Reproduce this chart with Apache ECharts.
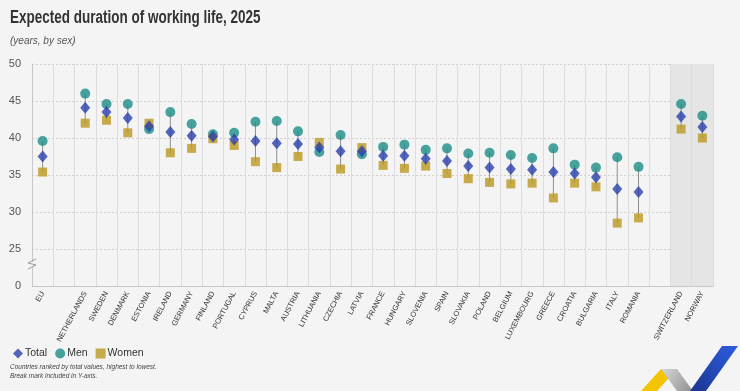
<!DOCTYPE html>
<html>
<head>
<meta charset="utf-8">
<script src="https://cdn.jsdelivr.net/npm/echarts@6/dist/echarts.min.js"></script>
<style>
  html, body { margin: 0; padding: 0; background: #f4f4f4; }
  #chart { width: 740px; height: 391px; }
</style>
</head>
<body>
<div id="chart"></div>
<script>
// countries, ranked by total (blank slots are gaps in the chart)
const countries = ['EU', '', 'NETHERLANDS', 'SWEDEN', 'DENMARK', 'ESTONIA', 'IRELAND', 'GERMANY', 'FINLAND',
  'PORTUGAL', 'CYPRUS', 'MALTA', 'AUSTRIA', 'LITHUANIA', 'CZECHIA', 'LATVIA', 'FRANCE', 'HUNGARY',
  'SLOVENIA', 'SPAIN', 'SLOVAKIA', 'POLAND', 'BELGIUM', 'LUXEMBOURG', 'GREECE', 'CROATIA', 'BULGARIA',
  'ITALY', 'ROMANIA', ' ', 'SWITZERLAND', 'NORWAY'];

const total = [37.5, null, 44.1, 43.5, 42.7, 41.6, 40.8, 40.3, 40.2,
  39.8, 39.6, 39.3, 39.2, 38.7, 38.2, 38.2, 37.6, 37.6,
  37.2, 36.9, 36.2, 36.0, 35.8, 35.7, 35.4, 35.2, 34.7,
  33.1, 32.7, null, 42.9, 41.5];

const men = [39.6, null, 46.0, 44.6, 44.6, 41.2, 43.5, 41.9, 40.5,
  40.7, 42.2, 42.3, 40.9, 38.1, 40.4, 37.8, 38.8, 39.1,
  38.4, 38.6, 37.9, 38.0, 37.7, 37.3, 38.6, 36.4, 36.0,
  37.4, 36.1, null, 44.6, 43.0];

const women = [35.4, null, 42.0, 42.4, 40.7, 42.0, 38.0, 38.6, 39.9,
  39.0, 36.8, 36.0, 37.5, 39.4, 35.8, 38.7, 36.3, 35.9,
  36.2, 35.2, 34.5, 34.0, 33.8, 33.9, 31.9, 33.9, 33.4,
  28.5, 29.2, null, 41.2, 40.0];

// y axis is broken: the lowest tick (20) is shown as 0
const yTicks = [20, 25, 30, 35, 40, 45, 50];
const nonEU = ['SWITZERLAND', 'NORWAY'];

const narrow = '"Liberation Sans Narrow", "Liberation Sans", sans-serif';
const blue = '#2b40ad', teal = '#1b8d88', gold = '#bb971f';

// min/max range per country for the connecting line
const ranges = countries.map((c, i) => men[i] == null ? null :
  [i, Math.min(men[i], women[i]), Math.max(men[i], women[i])]);

const chart = echarts.init(document.getElementById('chart'));

chart.setOption({
  backgroundColor: '#f4f4f4',
  animation: false,
  grid: { left: 32, right: 27, top: 64, bottom: 105 },
  legend: {
    left: 8, top: 343,
    itemWidth: 10, itemHeight: 10, itemGap: 8,
    textStyle: { fontFamily: narrow, fontSize: 10.5, color: '#333', padding: [0, 0, 0, -3] },
    data: [
      { name: 'Total', icon: 'diamond' },
      { name: 'Men', icon: 'circle' },
      { name: 'Women', icon: 'rect' }
    ]
  },
  xAxis: {
    type: 'category',
    data: countries,
    axisLine: { lineStyle: { color: '#c8c8c8' } },
    axisTick: { show: false },
    axisLabel: {
      interval: 0, rotate: 62, margin: 6,
      fontFamily: narrow, fontSize: 7.5, color: '#333'
    },
    splitLine: { show: true, interval: 0, lineStyle: { color: '#dcdcdc', width: 1 } },
    splitArea: {
      show: true, interval: 0,
      areaStyle: { color: countries.map(c => nonEU.includes(c) ? '#e5e5e5' : 'rgba(0,0,0,0)') }
    }
  },
  yAxis: {
    type: 'value',
    min: yTicks[0], max: yTicks[yTicks.length - 1], interval: 5,
    axisLine: { show: true, lineStyle: { color: '#c8c8c8' } },
    axisTick: { show: false },
    axisLabel: {
      margin: 11, fontFamily: narrow, fontSize: 11, color: '#555',
      formatter: v => v === yTicks[0] ? '0' : v
    },
    splitLine: { lineStyle: { color: '#cfcfcf', type: [2, 2] } }
  },
  series: [
    {
      type: 'custom',
      name: 'range',
      data: ranges.filter(r => r),
      z: 1,
      renderItem: (params, api) => {
        const a = api.coord([api.value(0), api.value(1)]);
        const b = api.coord([api.value(0), api.value(2)]);
        return {
          type: 'line',
          shape: { x1: a[0], y1: a[1], x2: b[0], y2: b[1] },
          style: { stroke: '#8e8e8e', lineWidth: 1 }
        };
      },
      silent: true
    },
    {
      name: 'Men', type: 'scatter', data: men, z: 2,
      symbol: 'circle', symbolSize: 10, itemStyle: { color: teal }
    },
    {
      name: 'Women', type: 'scatter', data: women, z: 3,
      symbol: 'rect', symbolSize: 9, itemStyle: { color: gold }
    },
    {
      name: 'Total', type: 'scatter', data: total, z: 4,
      symbol: 'diamond', symbolSize: [10, 12], itemStyle: { color: blue }
    }
  ],
  graphic: [
    {
      type: 'text', left: 10, top: 9, scaleX: 0.75,
      style: { text: 'Expected duration of working life, 2025', font: 'bold 18px ' + narrow, fill: '#333' }
    },
    {
      type: 'text', left: 10, top: 36,
      style: { text: '(years, by sex)', font: 'italic 10px ' + narrow, fill: '#555' }
    },
    {
      type: 'text', left: 10, top: 363,
      style: {
        text: 'Countries ranked by total values, highest to lowest.\nBreak mark included in Y-axis.',
        font: 'italic 6.5px ' + narrow, fill: '#444', lineHeight: 9
      }
    },
    // break mark on the y axis
    {
      type: 'polyline', z: 10,
      shape: { points: [[28, 269], [36, 265], [28, 263], [36, 259]] },
      style: { stroke: '#9a9a9a', lineWidth: 1, fill: null }
    },
    {
      type: 'rect', z: 9,
      shape: { x: 30, y: 262, width: 4, height: 5 },
      style: { fill: '#f4f4f4' }
    },
    // logo
    {
      type: 'polygon',
      shape: { points: [[641, 391], [661, 369], [677, 369], [657, 391]] },
      style: { fill: '#f5c400' }
    },
    {
      type: 'polygon',
      shape: { points: [[661, 369], [677, 369], [693, 391], [677, 391]] },
      style: {
        fill: new echarts.graphic.LinearGradient(0, 0, 1, 1, [
          { offset: 0, color: '#d8d8d8' }, { offset: 1, color: '#8f8f8f' }
        ])
      }
    },
    {
      type: 'polygon',
      shape: { points: [[690, 391], [722, 346], [738, 346], [706, 391]] },
      style: {
        fill: new echarts.graphic.LinearGradient(0, 1, 1, 0, [
          { offset: 0, color: '#1a3590' }, { offset: 1, color: '#2f5de0' }
        ])
      }
    }
  ]
});
</script>
</body>
</html>
